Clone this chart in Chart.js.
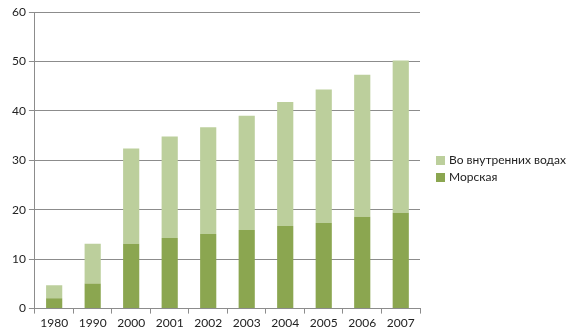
<!DOCTYPE html>
<html>
<head>
<meta charset="utf-8">
<script src="https://cdn.jsdelivr.net/npm/chart.js@4"></script>
<style>
  html, body { margin: 0; padding: 0; background: #fff; }
  #wrap { width: 576px; height: 336px; position: relative; }
  #legend { position: absolute; left: 436px; top: 151px; font: 12px Lato, sans-serif; color: #222; }
  #legend div { height: 17px; line-height: 17px; white-space: nowrap; }
  #legend span { display: inline-block; width: 9px; height: 9px; margin-right: 4px; vertical-align: -1px; }
</style>
</head>
<body>
<div id="wrap"><canvas id="catchChart"></canvas><div id="legend"></div></div>
<script>
// Years and catch values (marine, inland)
const years = ['1980', '1990', '2000', '2001', '2002', '2003', '2004', '2005', '2006', '2007'];
const marine = [2.1, 5.1, 13.1, 14.3, 15.1, 15.9, 16.7, 17.3, 18.6, 19.4];
const inland = [2.6, 8.0, 19.3, 20.5, 21.6, 23.1, 25.1, 27.0, 28.7, 30.8];
const yTicks = [0, 10, 20, 30, 40, 50, 60];

const gridColor = '#8c8c8c';
const textColor = '#222';

document.addEventListener('DOMContentLoaded', () => {
    const ctx = document.getElementById('catchChart');
    const chart = new Chart(ctx, {
        type: 'bar',
        data: {
            labels: years,
            datasets: [
                { label: 'Морская', data: marine, backgroundColor: '#8ba650' },
                { label: 'Во внутренних водах', data: inland, backgroundColor: '#bccf9c' }
            ]
        },
        options: {
            responsive: true,
            maintainAspectRatio: false,
            animation: false,
            layout: { padding: { top: 12, right: 156, left: 9, bottom: 4 } },
            datasets: {
                bar: { barPercentage: 0.42, categoryPercentage: 1, borderWidth: 0 }
            },
            scales: {
                x: {
                    stacked: true,
                    grid: {
                        drawOnChartArea: false,
                        offset: true,
                        color: gridColor,
                        tickLength: 5
                    },
                    border: { color: gridColor },
                    ticks: { color: textColor, font: { family: 'Lato', size: 12 }, padding: 2 }
                },
                y: {
                    stacked: true,
                    min: 0,
                    max: 60,
                    afterBuildTicks: axis => { axis.ticks = yTicks.map(v => ({ value: v })); },
                    grid: { color: gridColor, tickLength: 6 },
                    border: { color: gridColor },
                    ticks: { color: textColor, font: { family: 'Lato', size: 12 }, padding: 3 }
                }
            },
            plugins: {
                tooltip: { enabled: false },
                legend: { display: false }
            }
        }
    });

    // Legend lists the upper segment first
    const legend = document.getElementById('legend');
    chart.data.datasets.slice().reverse().forEach(ds => {
        legend.insertAdjacentHTML('beforeend',
            `<div><span style="background:${ds.backgroundColor}"></span>${ds.label}</div>`);
    });
});
</script>
</body>
</html>
